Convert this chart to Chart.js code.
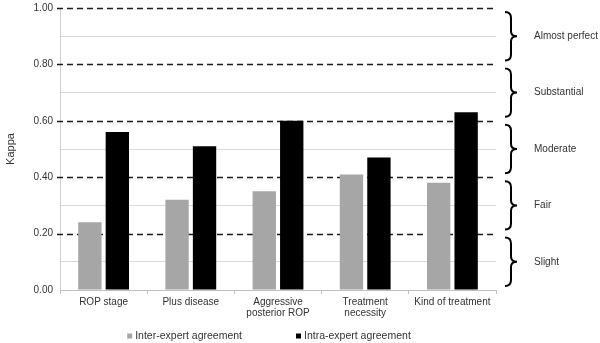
<!DOCTYPE html>
<html>
<head>
<meta charset="utf-8">
<script src="https://cdn.jsdelivr.net/npm/chart.js@4/dist/chart.umd.min.js"></script>
<style>
  html, body { margin: 0; padding: 0; background: #fff; }
  #wrap { width: 600px; height: 343px; }
</style>
</head>
<body>
<div id="wrap"><canvas id="myChart" width="600" height="343"></canvas></div>
<script>
const categories = ['ROP stage', 'Plus disease', ['Aggressive', 'posterior ROP'], ['Treatment', 'necessity'], 'Kind of treatment'];
const interExpert = [0.24, 0.32, 0.35, 0.41, 0.38];
const intraExpert = [0.56, 0.51, 0.60, 0.47, 0.63];
const bandLabels = ['Slight', 'Fair', 'Moderate', 'Substantial', 'Almost perfect'];
const bandEdges = [0, 0.2, 0.4, 0.6, 0.8, 1.0];

const FONT = '"Liberation Sans", Arial, sans-serif';
Chart.defaults.font.family = FONT;
Chart.defaults.font.size = 10;
Chart.defaults.color = '#333';

// dashed lines at band edges, curly braces with band names, and the legend at the bottom
const bandPlugin = {
    id: 'bands',
    beforeDatasetsDraw(chart) {
        const ctx = chart.ctx;
        const area = chart.chartArea;
        const y = chart.scales.y;
        ctx.save();
        ctx.strokeStyle = '#1a1a1a';
        ctx.lineWidth = 1.5;
        ctx.setLineDash([6, 4]);
        bandEdges.slice(1).forEach(v => {
            const py = Math.round(y.getPixelForValue(v)) + 0.5;
            ctx.beginPath();
            ctx.moveTo(area.left - 3, py);
            ctx.lineTo(area.right - 2, py);
            ctx.stroke();
        });
        ctx.restore();
    },
    afterDraw(chart) {
        const ctx = chart.ctx;
        const area = chart.chartArea;
        const y = chart.scales.y;
        const x0 = area.right + 9;
        ctx.save();
        ctx.strokeStyle = '#000';
        ctx.lineWidth = 2;
        ctx.font = '10px ' + FONT;
        bandLabels.forEach((label, i) => {
            const top = y.getPixelForValue(bandEdges[i + 1]) + 4;
            const bot = y.getPixelForValue(bandEdges[i]) - 4;
            const mid = (top + bot) / 2;
            const xm = x0 + 6;
            ctx.beginPath();
            ctx.moveTo(x0, top);
            ctx.quadraticCurveTo(xm, top, xm, top + 6);
            ctx.lineTo(xm, mid - 5);
            ctx.quadraticCurveTo(xm, mid, x0 + 12, mid);
            ctx.quadraticCurveTo(xm, mid, xm, mid + 5);
            ctx.lineTo(xm, bot - 6);
            ctx.quadraticCurveTo(xm, bot, x0, bot);
            ctx.stroke();
            ctx.fillStyle = '#333';
            ctx.textAlign = 'left';
            ctx.textBaseline = 'middle';
            ctx.fillText(label, x0 + 29, mid);
        });

        // legend
        ctx.font = '10.5px ' + FONT;
        const sets = chart.data.datasets;
        const box = 5, boxGap = 3, itemGap = 54;
        const widths = sets.map(d => ctx.measureText(d.label).width);
        const total = widths.reduce((a, w) => a + box + boxGap + w, 0) + itemGap * (sets.length - 1);
        let lx = (area.left + area.right) / 2 - 9 - total / 2;
        const ly = 336;
        sets.forEach((d, i) => {
            ctx.fillStyle = d.backgroundColor;
            ctx.fillRect(lx, ly - box / 2, box, box);
            ctx.fillStyle = '#333';
            ctx.textAlign = 'left';
            ctx.textBaseline = 'middle';
            ctx.fillText(d.label, lx + box + boxGap, ly);
            lx += box + boxGap + widths[i] + itemGap;
        });
        ctx.restore();
    }
};

const ctx1 = document.getElementById('myChart').getContext('2d');
const myChart = new Chart(ctx1, {
    type: 'bar',
    data: {
        labels: categories,
        datasets: [{
            label: 'Inter-expert agreement',
            data: interExpert,
            backgroundColor: '#a6a6a6',
            categoryPercentage: 0.63,
            barPercentage: 0.85
        }, {
            label: 'Intra-expert agreement',
            data: intraExpert,
            backgroundColor: '#000000',
            categoryPercentage: 0.63,
            barPercentage: 0.85
        }]
    },
    plugins: [bandPlugin],
    options: {
        responsive: false,
        animation: false,
        layout: { padding: { top: 0, right: 104, bottom: 23, left: 0 } },
        plugins: {
            legend: { display: false },
            tooltip: { enabled: false }
        },
        scales: {
            x: {
                afterFit(scale) { scale.height = 30; },
                grid: {
                    drawOnChartArea: false,
                    drawTicks: true,
                    tickLength: 4,
                    color: '#bfbfbf'
                },
                border: { color: '#bfbfbf' },
                ticks: {
                    color: '#333',
                    padding: 2,
                    maxRotation: 0,
                    font: { size: 10, lineHeight: 1.15 }
                }
            },
            y: {
                min: 0,
                max: 1,
                afterFit(scale) { scale.width = 60; },
                ticks: {
                    stepSize: 0.1,
                    color: '#333',
                    padding: 3,
                    font: { size: 10, lineHeight: 1 },
                    callback: v => (Math.round(v * 10) % 2 === 0 ? v.toFixed(2) : '')
                },
                grid: {
                    color: c => (c.tick && Math.round(c.tick.value * 10) % 2 === 1 ? '#d9d9d9' : 'rgba(0,0,0,0)'),
                    drawTicks: true,
                    tickLength: 4,
                    tickColor: 'rgba(0,0,0,0)'
                },
                border: { color: '#d0d0d0' },
                title: {
                    display: true,
                    text: 'Kappa',
                    color: '#333',
                    font: { size: 11 },
                    padding: { top: 4, bottom: 0 }
                }
            }
        }
    }
});
</script>
</body>
</html>
